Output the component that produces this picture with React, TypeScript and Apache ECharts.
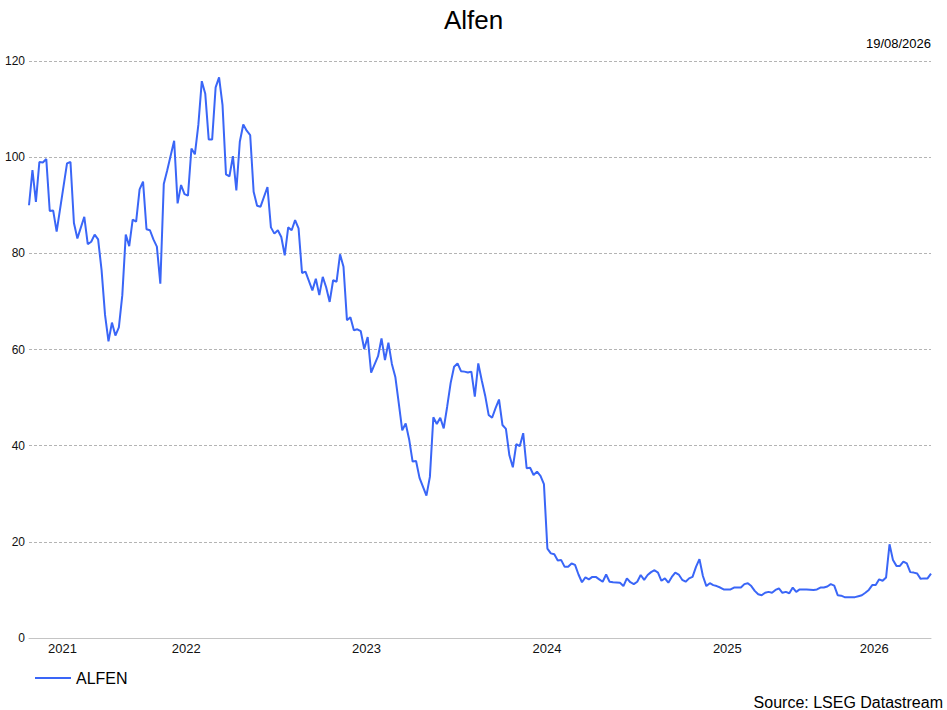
import React, { useEffect, useRef } from "react";
import * as echarts from "echarts";

const TITLE = "Alfen";
const AS_OF = "19/08/2026";
const SOURCE = "Source: LSEG Datastream";
const SERIES_NAME = "ALFEN";

// weekly observations: first week is 2021-08-18, last is 2026-08-19 (week 261)
const START_DATE = "2021-08-18";
const LAST_WEEK = 261;

const weekOffsets = [
  0, 1, 2, 3, 4, 5, 6, 7, 8, 11, 12, 13, 14, 16, 17, 18, 19, 20, 21, 22, 23, 24, 25, 26, 27, 28, 29, 30,
  31, 32, 33, 34, 35, 36, 37, 38, 39, 40, 42, 43, 44, 45, 46, 47, 48, 49, 50, 51, 52, 53, 54, 55, 56, 57,
  58, 59, 60, 61, 62, 63, 64, 65, 66, 67, 69, 70, 71, 72, 73, 74, 75, 76, 77, 78, 79, 80, 82, 83, 84, 85,
  86, 87, 88, 89, 90, 91, 92, 93, 94, 95, 96, 97, 98, 99, 101, 102, 103, 104, 105, 106, 107, 108, 109, 110,
  111, 112, 113, 115, 116, 117, 118, 119, 120, 121, 122, 123, 124, 125, 126, 127, 128, 129, 130, 131, 132,
  133, 134, 135, 136, 137, 138, 139, 140, 141, 142, 143, 144, 145, 146, 147, 148, 149, 150, 151, 152, 153,
  154, 155, 156, 157, 158, 159, 160, 161, 162, 163, 164, 165, 166, 167, 168, 169, 171, 172, 173, 174, 175,
  176, 177, 178, 179, 180, 181, 182, 183, 184, 185, 186, 187, 188, 189, 190, 191, 192, 193, 194, 195, 196,
  197, 198, 199, 200, 201, 203, 204, 205, 206, 207, 208, 209, 210, 211, 212, 213, 214, 215, 216, 217, 218,
  219, 220, 221, 222, 223, 224, 225, 227, 228, 229, 230, 231, 232, 233, 234, 235, 236, 239, 240, 241, 242,
  243, 244, 245, 246, 247, 248, 249, 250, 251, 252, 253, 254, 255, 256, 257, 258, 259, 260, 261,
];

const prices = [
  90.0, 97.3, 90.7, 99.0, 98.9, 99.6, 88.8, 88.9, 84.5, 98.7, 99.0, 86.3, 83.1, 87.6, 81.9, 82.4, 83.9, 82.9,
  76.5, 67.2, 61.7, 65.6, 62.9, 64.6, 71.3, 83.9, 81.5, 87.0,
  86.6, 93.3, 94.9, 85.0, 84.8, 82.9, 81.4, 73.7, 94.4, 97.3, 103.4, 90.4, 94.2, 92.3, 92.0, 101.8, 100.6,
  106.7, 115.8, 113.2, 103.7, 103.7, 114.5, 116.6, 110.8, 96.4,
  96.0, 100.2, 93.1, 103.2, 106.8, 105.5, 104.6, 92.8, 89.9, 89.7, 93.8, 85.4, 84.1, 84.8, 83.4, 79.6, 85.4,
  84.8, 86.9, 85.2, 75.9, 76.2, 72.3, 74.7, 71.3, 75.1,
  72.9, 69.9, 74.4, 74.1, 79.8, 77.2, 66.1, 66.7, 64.0, 64.2, 63.8, 60.1, 62.6, 55.2, 58.6, 62.3, 57.8, 61.4,
  57.0, 54.3, 48.8, 43.2, 44.6, 41.3,
  36.7, 36.8, 33.3, 29.6, 33.5, 45.9, 44.5, 45.8, 43.6, 48.1, 53.0, 56.4, 57.1, 55.5, 55.4, 55.2, 55.4, 50.2,
  57.1, 53.6, 50.4,
  46.4, 45.8, 47.8, 49.6, 44.3, 43.5, 38.0, 35.5, 40.3, 39.9, 42.6, 35.3, 35.4, 33.9, 34.6, 33.7, 32.0, 18.6,
  17.6, 17.4, 16.1,
  16.2, 14.8, 14.8, 15.5, 15.2, 13.2, 11.6, 12.6, 12.2, 12.7, 12.7, 12.2, 11.7, 13.2, 11.7, 11.6, 11.5, 10.8,
  12.4, 11.6, 11.2,
  11.7, 13.1, 12.1, 13.1, 13.7, 14.1, 13.6, 11.9, 12.4, 11.5, 12.7, 13.6, 13.2, 12.1, 11.7, 12.4, 12.7, 14.8,
  16.4, 12.9, 10.8,
  11.4, 11.0, 10.8, 10.5, 10.1, 10.1, 10.5, 10.5, 10.5, 11.2, 11.4, 10.8, 9.8, 9.1, 8.9, 9.4, 9.6, 9.4, 10.0,
  10.3, 9.4,
  9.6, 9.3, 10.5, 9.6, 10.1, 10.1, 10.1, 10.0, 10.1, 10.5, 10.5, 10.7, 11.2, 10.9, 8.9, 8.8, 8.5, 8.5, 8.7,
  8.9, 9.4,
  10.0, 11.0, 11.0, 12.2, 11.9, 12.6, 19.5, 16.2, 15.0, 15.0, 15.9, 15.5, 13.7, 13.6, 13.4, 12.3, 12.4, 12.4,
  13.4,
];

const yTicks = { min: 0, max: 120, interval: 20 };
const yearLabels = [2021, 2022, 2023, 2024, 2025, 2026];

const WEEK_MS = 7 * 86400000;

export default function App() {
  const ref = useRef<HTMLDivElement>(null);

  useEffect(() => {
    if (!ref.current) return;
    const chart = echarts.init(ref.current, undefined, { renderer: "svg" });
    const start = Date.parse(START_DATE + "T00:00:00Z");
    const end = start + LAST_WEEK * WEEK_MS;
    const data = weekOffsets.map((w, i) => [start + w * WEEK_MS, prices[i]]);

    // year labels centred in the visible part of each calendar year
    const labelPositions = yearLabels.map((y) => {
      const lo = Math.max(start, Date.UTC(y, 0, 1));
      const hi = Math.min(end, Date.UTC(y + 1, 0, 1));
      return (lo + hi) / 2;
    });

    const font = "'Liberation Sans', Arial, sans-serif";
    const lineColor = "#3a66f7";

    chart.setOption({
      animation: false,
      textStyle: { fontFamily: font },
      title: {
        text: TITLE,
        left: "center",
        top: 2,
        textStyle: { fontSize: 26, fontWeight: "normal", color: "#000", fontFamily: font },
      },
      graphic: [
        {
          type: "text",
          right: 16,
          top: 37,
          style: { text: AS_OF, fontSize: 13, fill: "#000", fontFamily: font },
        },
        {
          type: "text",
          right: 4,
          top: 694,
          style: { text: SOURCE, fontSize: 16, fill: "#000", fontFamily: font },
        },
      ],
      legend: {
        left: 30,
        top: 665,
        icon: "rect",
        itemWidth: 36,
        itemHeight: 2,
        textStyle: { fontSize: 16, color: "#000", fontFamily: font },
        data: [SERIES_NAME],
      },
      grid: {
        left: 29,
        right: 16,
        top: 61,
        bottom: 72,
        containLabel: false,
        outerBoundsMode: "none",
      },
      xAxis: {
        type: "value",
        min: start,
        max: end,
        axisLine: { show: true, lineStyle: { color: "#c4c4c4", width: 1 } },
        axisTick: { show: false },
        splitLine: { show: false },
        axisLabel: {
          customValues: labelPositions,
          formatter: (v: number) => String(new Date(v).getUTCFullYear()),
          fontSize: 13,
          color: "#111",
          margin: 4,
          fontFamily: font,
        },
      },
      yAxis: {
        type: "value",
        min: yTicks.min,
        max: yTicks.max,
        interval: yTicks.interval,
        axisLine: { show: false },
        axisTick: { show: false },
        axisLabel: { fontSize: 12, color: "#111", margin: 4, fontFamily: font },
        splitLine: { show: true, lineStyle: { color: "#b4b4b4", type: [3, 2], width: 1 } },
      },
      series: [
        {
          name: SERIES_NAME,
          type: "line",
          data,
          symbol: "none",
          lineStyle: { color: lineColor, width: 2 },
          itemStyle: { color: lineColor },
        },
      ],
    });

    return () => chart.dispose();
  }, []);

  return (
    <div
      ref={ref}
      style={{ position: "fixed", left: 0, top: 0, width: 947, height: 710, background: "#fff" }}
    />
  );
}
